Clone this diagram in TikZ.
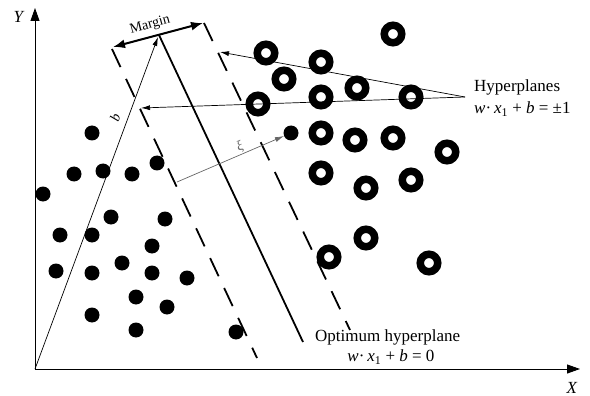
\documentclass[tikz,border=0pt]{standalone}
\usepackage{fontspec}
\setmainfont{Liberation Serif}
\usetikzlibrary{arrows.meta}
\begin{document}
\begin{tikzpicture}[x=1pt,y=-1pt,
  dot/.style={circle,fill=black,minimum size=15pt,inner sep=0pt},
  ring/.style={circle,draw=black,line width=7.5pt,minimum size=17.5pt,inner sep=0pt},
  hplane/.style={line width=1.8pt,dash pattern=on 20pt off 13pt},
  optplane/.style={line width=1.8pt},
  axis/.style={line width=0.9pt,-{Triangle[length=13pt,width=9pt]}},
  thinarrow/.style={line width=0.7pt,-{Latex[length=9pt,width=5pt]}},
  marginarrow/.style={line width=2pt,{Latex[length=12pt,width=9pt]}-{Latex[length=12pt,width=9pt]}},
  big/.style={font=\fontsize{17}{19}\selectfont,inner sep=0pt},
  small/.style={font=\fontsize{14}{16}\selectfont,inner sep=0pt}]
\useasboundingbox (0,0) rectangle (590,396);

% axes
\coordinate (O) at (35,369);
\coordinate (Ytop) at (35,8);
\coordinate (Xend) at (580,369);
\draw[axis] (O) -- (Ytop);
\draw[axis] (O) -- (Xend);
\node[big] (ylab) at (19,17) {\textit{Y}};
\node[big] (xlab) at (572,388) {\textit{X}};

% filled dots
\foreach \n/\x/\y in {1/92/133, 2/74/174, 3/103/171, 4/132/174, 5/157/163, 6/43/194,
  7/111/217, 8/165/219, 9/60/235, 10/92/235, 11/152/246, 12/56/271, 13/92/273,
  14/122/263, 15/152/273, 16/187/278, 17/136/297, 18/167/307, 19/92/315,
  20/136/330, 21/236/332, 22/291/133}
  \node[dot] (d\n) at (\x,\y) {};

% rings
\foreach \n/\x/\y in {1/266/53, 2/321/62, 3/393/34, 4/284/79, 5/258/104, 6/357/88,
  7/321/97, 8/411/97, 9/321/133, 10/355/140, 11/393/138, 12/447/152, 13/321/173,
  14/366/188, 15/411/180, 16/366/238, 17/329/257, 18/429/263}
  \node[ring] (r\n) at (\x,\y) {};

% hyperplanes
\coordinate (L1) at (112,49);
\coordinate (L2) at (257,358);
\coordinate (S1) at (159,35);
\coordinate (S2) at (303,342);
\coordinate (R1) at (204,23);
\coordinate (R2) at (350,330);
\draw[hplane] (L1) -- (L2);
\draw[optplane] (S1) -- (S2);
\draw[hplane] (R1) -- (R2);

% margin arrow
\coordinate (M1) at (113,47);
\coordinate (M2) at (203,23);
\draw[marginarrow] (M1) -- (M2);
\node[small,rotate=15] (marginlab) at (150,25) {Margin};

% b vector
\coordinate (B) at (158,37);
\draw[thinarrow] (O) -- (B);
\node[small,rotate=69.5] (blab) at (115,118) {\textit{b}};

% xi arrow
\coordinate (XiS) at (177,182);
\draw[thinarrow,draw=gray!80!black] (XiS) -- (d22);
\node[small,text=gray!80!black,rotate=23] (xilab) at (240,147) {\textit{ξ}};

% hyperplane label arrows
\coordinate (HP) at (465,97);
\coordinate (HR) at (220,52);
\coordinate (HL) at (141,108);
\draw[thinarrow] (HP) -- (HR);
\draw[thinarrow] (HP) -- (HL);
\node[big,anchor=west] (hyp) at (474,87) {Hyperplanes};
\node[big,anchor=west] (hypeq) at (474,109) {\textit{w}·\,\textit{x}\textsubscript{1} + \textit{b} = ±1};

% optimum label
\node[big,anchor=west] (opt) at (315,337) {Optimum hyperplane};
\node[big] (opteq) at (391,357) {\textit{w}·\,\textit{x}\textsubscript{1} + \textit{b} = 0};
\end{tikzpicture}
\end{document}
